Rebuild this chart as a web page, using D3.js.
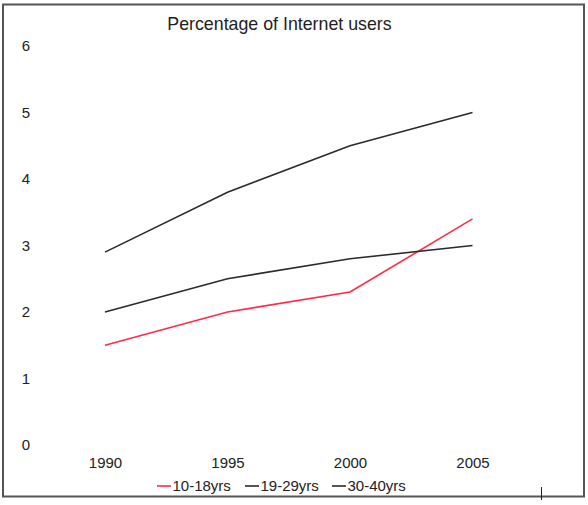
<!DOCTYPE html>
<html><head><meta charset="utf-8">
<script src="https://cdn.jsdelivr.net/npm/d3@7/dist/d3.min.js"></script>
<style>html,body{margin:0;padding:0;background:#fff;}svg{display:block;}</style>
</head><body><svg id="c" width="588" height="505"></svg>
<script>
const years = [1990, 1995, 2000, 2005];
const yTicks = [0, 1, 2, 3, 4, 5, 6];
const seriesNames = ["10-18yrs", "19-29yrs", "30-40yrs"];
const seriesColors = ["#ff2b45", "#2b2b2b", "#2b2b2b"];
const s1018 = [1.5, 2.0, 2.3, 3.4];
const s1929 = [2.0, 2.5, 2.8, 3.0];
const s3040 = [2.9, 3.8, 4.5, 5.0];
const title = "Percentage of Internet users";

const series = [s1018, s1929, s3040].map((v, i) => ({name: seriesNames[i], color: seriesColors[i], values: v}));
const svg = d3.select("#c");
const font = "'Liberation Sans', Arial, sans-serif";

svg.append("rect").attr("x", 3).attr("y", 4.5).attr("width", 581).attr("height", 492)
  .attr("fill", "none").attr("stroke", "#555").attr("stroke-width", 2);

const x = d3.scalePoint().domain(years).range([105, 472.5]);
const y = d3.scaleLinear().domain([0, 6]).range([445, 46]);

svg.append("text").attr("x", 279.5).attr("y", 30).attr("text-anchor", "middle")
  .attr("font-family", font).attr("font-size", 17.8).attr("fill", "#222").text(title);

const yAxis = svg.append("g").attr("transform", "translate(32,0)")
  .call(d3.axisLeft(y).tickValues(yTicks).tickSize(0).tickPadding(0).tickFormat(d3.format("d")));
yAxis.select(".domain").remove();
yAxis.selectAll("text").attr("font-family", font).attr("font-size", 15).attr("fill", "#222")
  .attr("text-anchor", "middle").attr("x", -6);

const xAxis = svg.append("g").attr("transform", "translate(0,457.5)")
  .call(d3.axisBottom(x).tickSize(0).tickPadding(0).tickFormat(d3.format("d")));
xAxis.select(".domain").remove();
xAxis.selectAll("text").attr("font-family", font).attr("font-size", 15).attr("fill", "#222");

const line = d3.line().x((d, i) => x(years[i])).y(d => y(d));
svg.selectAll("path.series").data(series).enter().append("path").attr("class", "series")
  .attr("d", d => line(d.values)).attr("fill", "none")
  .attr("stroke", d => d.color).attr("stroke-width", 1.6);

const legendX = [157, 245, 332];
const lg = svg.selectAll("g.leg").data(series).enter().append("g").attr("class", "leg")
  .attr("transform", (d, i) => `translate(${legendX[i]},486)`);
lg.append("line").attr("x1", 0).attr("x2", 14).attr("y1", 0).attr("y2", 0)
  .attr("stroke", d => d.color).attr("stroke-width", 1.6);
lg.append("text").attr("x", 15.5).attr("y", 5.2).attr("font-family", font).attr("font-size", 15)
  .attr("fill", "#222").text(d => d.name);

svg.append("line").attr("x1", 541.5).attr("x2", 541.5).attr("y1", 487).attr("y2", 500)
  .attr("stroke", "#222").attr("stroke-width", 1);
</script></body></html>
